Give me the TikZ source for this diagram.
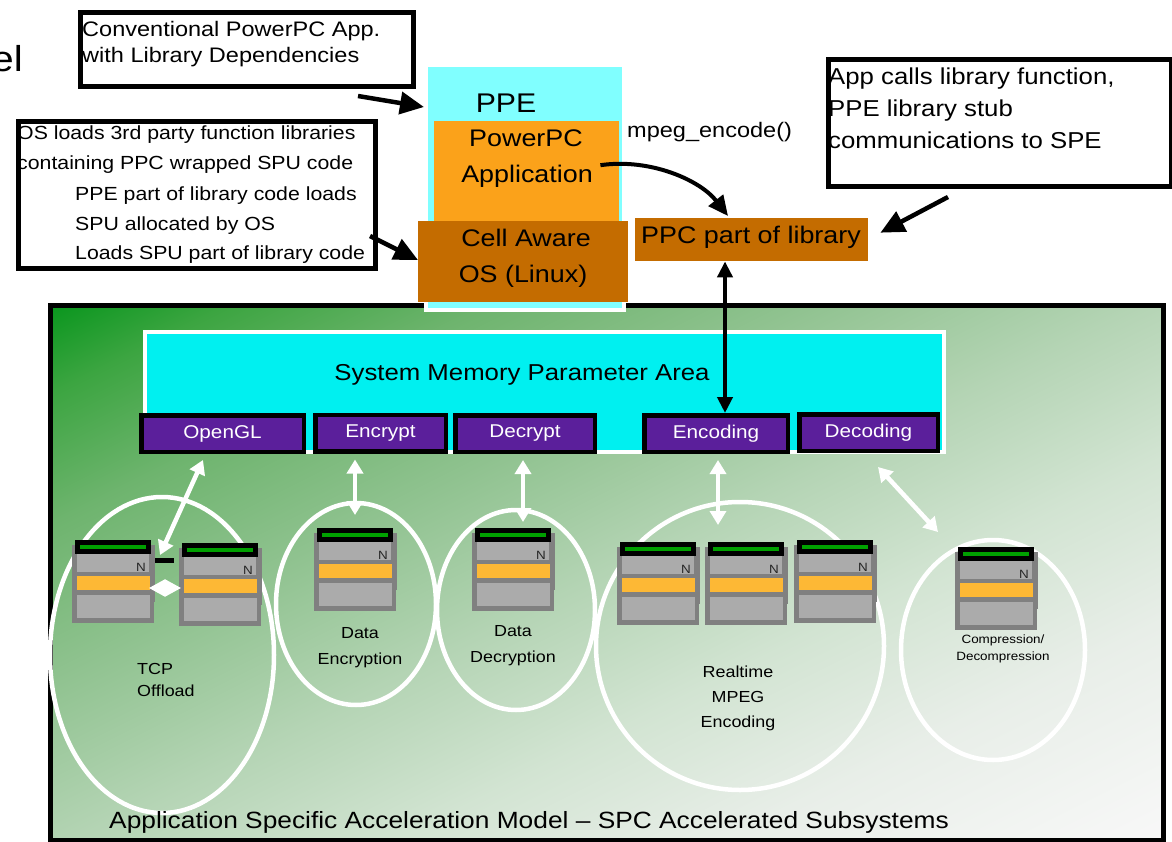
\documentclass[tikz,border=0pt]{standalone}
\usepackage{fontspec}
\setmainfont{Liberation Sans}[FakeStretch=1.12]
\usetikzlibrary{arrows.meta,calc}

\definecolor{ppecyan}{HTML}{80FFFF}
\definecolor{memcyan}{HTML}{00F0F0}
\definecolor{apporange}{HTML}{FBA21A}
\definecolor{osbrown}{HTML}{C46C00}
\definecolor{funcpurple}{HTML}{5B1F9B}
\definecolor{chipframe}{HTML}{808080}
\definecolor{chippanel}{HTML}{ABABAB}
\definecolor{chiporange}{HTML}{FDB835}
\definecolor{chipgreen}{HTML}{00A000}
\definecolor{g0}{RGB}{10,150,30}
\definecolor{g1}{RGB}{60,165,65}
\definecolor{g2}{RGB}{110,180,110}
\definecolor{g3}{RGB}{145,195,145}
\definecolor{g4}{RGB}{180,212,180}
\definecolor{g5}{RGB}{210,228,210}
\definecolor{g6}{RGB}{232,238,232}
\definecolor{g7}{RGB}{248,248,248}

% diagonal green-to-white fade of the subsystem panel (applied to a square, clipped)
\pgfdeclarehorizontalshading{panelfade}{100bp}{%
  color(0bp)=(g0); color(28.07bp)=(g0); color(31.58bp)=(g1); color(36.84bp)=(g2);
  color(43.42bp)=(g3); color(50bp)=(g4); color(56.58bp)=(g5); color(63.16bp)=(g6);
  color(71.93bp)=(g7); color(100bp)=(g7)}

\newcommand\setfs[1]{\fontsize{#1}{#1}\selectfont}

\tikzset{
  calloutbox/.style={draw=black, line width=5, fill=white, inner sep=0, anchor=north west},
  block/.style={inner sep=0, anchor=north west},
  funcbox/.style={draw=black, fill=funcpurple, line width=4.5, inner sep=0,
    text=white, font=\setfs{18.5}, minimum height=36.5},
  lbl/.style={inner sep=0, anchor=base},
  lblw/.style={inner sep=0, anchor=base west},
  pointer/.style={line width=4.5, -{Triangle[length=24pt,width=22pt]}},
  callarc/.style={line width=4, -{Triangle[length=20pt,width=18pt]}},
  dbl/.style={line width=4, {Triangle[length=16pt,width=15pt]}-{Triangle[length=16pt,width=15pt]}},
  link/.style={draw=white, line width=4.5, {Triangle[length=14pt,width=16pt]}-{Triangle[length=14pt,width=16pt]}},
  ring/.style={draw=white, line width=4.5},
  spe/.pic={
    \fill[chipframe] (-3.5,5) rectangle (79.5,62);
    \fill[chipframe] (-3.5,50) rectangle (79,83);
    \fill[chippanel] (1.5,14) rectangle (74,32);
    \fill[chiporange] (1.5,36) rectangle (75,50);
    \fill[chippanel] (1.5,55) rectangle (74.5,78);
    \fill[black] (0,0) rectangle (76,13.5);
    \fill[chipgreen] (5,4.5) rectangle (71,9);
    \node[lbl, font=\setfs{12}, text=black!85] (-n) at (66,31) {N};
  }
}

\begin{document}
\begin{tikzpicture}[x=1pt,y=-1pt]
\useasboundingbox (0,0) rectangle (1172,842);

% title fragment at the top left
\node[inner sep=0, anchor=base east, font=\setfs{36}] (titlefrag) at (23,72) {el};

% subsystem panel
\coordinate (pnw) at (50,305);
\coordinate (pse) at (1163,840);
\coordinate (pc) at (606.5,572.5);
\begin{scope}
  \clip (pnw) rectangle (pse);
  \shade[shading=panelfade, shading angle=-63.43]
    ($(pc)+(-556.5,-556.5)$) rectangle ($(pc)+(556.5,556.5)$);
\end{scope}
\draw[line width=5] (pnw) rectangle (pse);

% system memory area and function entry points
\node[block, fill=memcyan, draw=white, line width=4, minimum width=799, minimum height=120] (mem) at (143,330) {};
\node[lbl, font=\setfs{23}] (memlabel) at (522,380) {System Memory Parameter Area};

\node[funcbox, minimum width=162.5] (gl)   at (222.5,433.5) {OpenGL};
\node[funcbox, minimum width=130.5] (encr) at (380.5,433) {Encrypt};
\node[funcbox, minimum width=139.5] (decr) at (525,433.5) {Decrypt};
\node[funcbox, minimum width=143.5] (encg) at (716,433.5) {Encoding};
\node[funcbox, minimum width=138.5] (decg) at (868.5,432.5) {Decoding};

% subsystem groupings
\draw[ring] (162,655) ellipse [x radius=112, y radius=158];
\draw[ring] (356,604) ellipse [x radius=80, y radius=101];
\draw[ring] (516,610) ellipse [x radius=79, y radius=100];
\draw[ring] (740,646) ellipse [x radius=144, y radius=144];
\draw[ring] (993,650) ellipse [x radius=92, y radius=110];

% SPE chips
\pic (tcpA) at (75,540) {spe};
\pic (tcpB) at (182,543) {spe};
\pic (encA) at (317,528) {spe};
\pic (decA) at (475,528) {spe};
\pic (mpgA) at (620,542) {spe};
\pic (mpgB) at (708,542) {spe};
\pic (mpgC) at (797,540) {spe};
\pic (cmpA) at (958,547) {spe};

% links between function entries and SPEs
\coordinate (glend)  at (160,555);
\coordinate (encend) at (355,515);
\coordinate (decend) at (523,522);
\coordinate (mpgend) at (718,525);
\coordinate (cmpend) at (938,532);
\draw[link] ($(gl.south)+(-19.5,6)$) -- (glend);
\draw[link] ($(encr.south)+(-25.5,6)$) -- (encend);
\draw[link] ($(decr.south)+(-2,6)$) -- (decend);
\draw[link] ($(encg.south)+(2,6)$) -- (mpgend);
\draw[link] ($(decg.south)+(9.5,14)$) -- (cmpend);
\fill[black] (155,558) rectangle (174,563);
\coordinate (tcpl) at (149,588);
\coordinate (tcpr) at (181,588);
\draw[draw=white, line width=2, {Triangle[length=16pt,width=17pt]}-{Triangle[length=16pt,width=17pt]}] (tcpl) -- (tcpr);

% subsystem names
\node[lblw, font=\setfs{16}] (tcp1) at (137,674) {TCP};
\node[lblw, font=\setfs{16}] (tcp2) at (137,696) {Offload};
\node[lbl, font=\setfs{16}] (de1) at (360,638) {Data};
\node[lbl, font=\setfs{16}] (de2) at (360,664) {Encryption};
\node[lbl, font=\setfs{16}] (dd1) at (513,636) {Data};
\node[lbl, font=\setfs{16}] (dd2) at (513,662) {Decryption};
\node[lbl, font=\setfs{16}] (rm1) at (738,677) {Realtime};
\node[lbl, font=\setfs{16}] (rm2) at (738,702) {MPEG};
\node[lbl, font=\setfs{16}] (rm3) at (738,727) {Encoding};
\node[lbl, font=\setfs{12}] (cd1) at (1003,643) {Compression/};
\node[lbl, font=\setfs{12}] (cd2) at (1003,660) {Decompression};

\node[lblw, font=\setfs{23.5}] (paneltitle) at (109,828)
  {Application Specific Acceleration Model – SPC Accelerated Subsystems};

% PPE stack
\node[block, fill=ppecyan, draw=white, line width=4, minimum width=198, minimum height=245] (ppe) at (424,63) {};
\node[lbl, font=\setfs{27}] (ppelabel) at (506,113) {PPE};
\node[block, fill=apporange, minimum width=185, minimum height=100] (app) at (434,121) {};
\node[lbl, font=\setfs{24}] (app1) at (526,147) {PowerPC};
\node[lbl, font=\setfs{24}] (app2) at (527,183) {Application};
\node[block, fill=osbrown, minimum width=210, minimum height=81] (os) at (418,221) {};
\node[lbl, font=\setfs{24}] (os1) at (526,247) {Cell Aware};
\node[lbl, font=\setfs{24}] (os2) at (523,283) {OS (Linux)};

\node[lblw, font=\setfs{21}] (call) at (627,138) {mpeg\_encode()};
\node[block, fill=osbrown, minimum width=233, minimum height=43] (ppclib) at (635,218) {};
\node[lbl, font=\setfs{24}] (ppclibtext) at (751,244) {PPC part of library};

% explanatory callouts
\node[calloutbox, minimum width=333, minimum height=74] (convbox) at (77.5,10.5) {};
\node[lblw, font=\setfs{21}] (conv1) at (82,37) {Conventional PowerPC App.};
\node[lblw, font=\setfs{21}] (conv2) at (82,63) {with Library Dependencies};

\node[calloutbox, minimum width=357, minimum height=147] (osbox) at (15.5,119.5) {};
\node[lblw, font=\setfs{19}] (osl1) at (17,140) {OS loads 3rd party function libraries};
\node[lblw, font=\setfs{19}] (osl2) at (17,170) {containing PPC wrapped SPU code};
\node[lblw, font=\setfs{19}] (osl3) at (75,201) {PPE part of library code loads};
\node[lblw, font=\setfs{19}] (osl4) at (75,231) {SPU allocated by OS};
\node[lblw, font=\setfs{19}] (osl5) at (75,260) {Loads SPU part of library code};

\node[calloutbox, minimum width=343, minimum height=127] (stubbox) at (825.5,57.5) {};
\node[lblw, font=\setfs{23}] (stub1) at (828,85) {App calls library function,};
\node[lblw, font=\setfs{23}] (stub2) at (828,117) {PPE library stub};
\node[lblw, font=\setfs{23}] (stub3) at (828,149) {communications to SPE};

% arrows
\coordinate (convtail) at (358,96);
\coordinate (ostail) at (370,236);
\coordinate (stubtail) at (948,197);
\draw[pointer] (convtail) -- ($(ppe.north west)+(0,44)$);
\draw[pointer] (ostail) -- ($(os.north west)+(0,39)$);
\draw[pointer] (stubtail) -- ($(ppclib.east)+(12,-7)$);

\coordinate (callsrc) at ($(app.east)+(-19,-6)$);
\draw[callarc] (callsrc) .. controls (650,158) and (700,180) .. ($(ppclib.north west)+(93,-2)$);

\coordinate (encx) at (725,0);
\draw[dbl] (ppclib.south -| encx) -- (encg.north -| encx);
\end{tikzpicture}
\end{document}
